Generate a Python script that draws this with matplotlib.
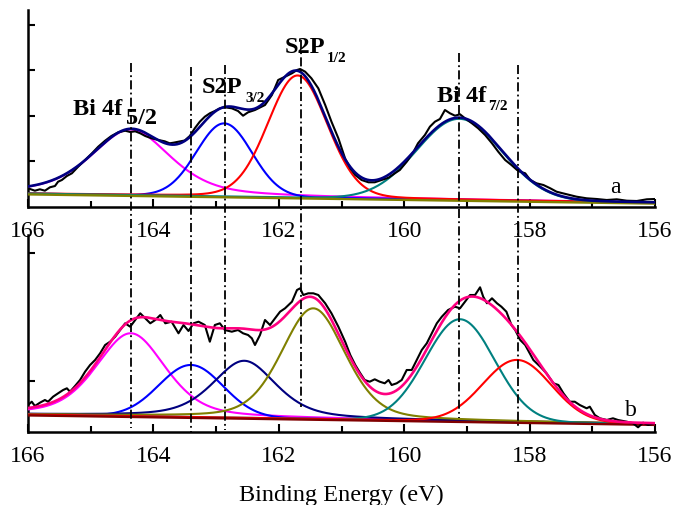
import numpy as np
import matplotlib
matplotlib.use("Agg")
import matplotlib.pyplot as plt
from matplotlib.lines import Line2D
from matplotlib.transforms import blended_transform_factory

plt.rcParams['font.family'] = ['Liberation Serif', 'DejaVu Serif']

# ---------------- measured spectra (binding energy in eV, intensity in a.u.) ----------------
energy_a = [166.00, 165.89, 165.81, 165.73, 165.65, 165.57, 165.52, 165.46, 165.38, 165.30,
            165.20, 165.09, 164.98, 164.88, 164.77, 164.67, 164.56, 164.45, 164.37, 164.29,
            164.21, 164.13, 164.03, 163.92, 163.82, 163.74, 163.68, 163.60, 163.50, 163.42,
            163.34, 163.26, 163.18, 163.10, 163.02, 162.94, 162.86, 162.75, 162.65, 162.57,
            162.49, 162.38, 162.22, 162.11, 162.01, 161.90, 161.79, 161.71, 161.66, 161.58,
            161.48, 161.37, 161.26, 161.16, 161.05, 160.94, 160.86, 160.78, 160.68, 160.57,
            160.47, 160.36, 160.25, 160.15, 160.07, 159.96, 159.85, 159.78, 159.67, 159.59,
            159.51, 159.43, 159.35, 159.27, 159.19, 159.11, 159.03, 158.92, 158.82, 158.71,
            158.60, 158.50, 158.39, 158.29, 158.20, 158.15, 158.07, 157.99, 157.89, 157.78,
            157.67, 157.57, 157.47, 157.36, 157.25, 157.09, 156.93, 156.77, 156.61, 156.45,
            156.29, 156.13, 156.00]
counts_a = [18.7, 16.3, 17.7, 16.3, 19.7, 21.0, 25.3, 27.0, 31.0, 33.7,
            40.3, 47.0, 53.7, 60.3, 66.3, 71.0, 74.7, 76.3, 75.0, 75.7,
            73.7, 71.0, 68.7, 67.0, 65.7, 63.7, 64.3, 65.3, 66.5, 71.0,
            78.7, 85.3, 90.3, 93.7, 96.0, 98.7, 99.7, 98.7, 96.0, 91.3,
            94.7, 97.0, 102.0, 112.0, 127.0, 130.3, 133.7, 137.0, 138.0, 135.3,
            128.7, 118.7, 102.0, 85.3, 68.7, 48.0, 38.7, 32.0, 27.0, 24.7,
            24.7, 27.0, 29.3, 33.7, 37.0, 45.3, 55.3, 63.7, 72.0, 80.3,
            85.3, 88.0, 97.0, 93.7, 91.3, 92.7, 88.7, 83.7, 78.7, 72.0,
            63.7, 55.3, 47.0, 42.0, 37.0, 35.3, 33.7, 27.0, 23.7, 22.0,
            18.7, 15.3, 13.7, 12.0, 10.3, 8.7, 8.0, 7.0, 7.7, 6.3,
            6.0, 7.7, 8.0]

energy_b = [166.00, 165.94, 165.89, 165.81, 165.73, 165.68, 165.60, 165.52, 165.44, 165.38,
            165.33, 165.25, 165.17, 165.09, 165.01, 164.93, 164.85, 164.77, 164.69, 164.61,
            164.53, 164.45, 164.37, 164.29, 164.21, 164.13, 164.05, 163.97, 163.89, 163.81,
            163.71, 163.60, 163.52, 163.44, 163.36, 163.28, 163.18, 163.10, 163.02, 162.94,
            162.86, 162.75, 162.65, 162.57, 162.49, 162.43, 162.38, 162.30, 162.22, 162.14,
            162.06, 161.98, 161.90, 161.79, 161.71, 161.66, 161.61, 161.53, 161.45, 161.37,
            161.26, 161.16, 161.05, 160.94, 160.86, 160.78, 160.70, 160.63, 160.55, 160.47,
            160.39, 160.31, 160.25, 160.20, 160.12, 160.04, 159.96, 159.88, 159.80, 159.72,
            159.64, 159.56, 159.48, 159.40, 159.30, 159.19, 159.11, 159.03, 158.95, 158.87,
            158.79, 158.74, 158.68, 158.60, 158.52, 158.45, 158.37, 158.29, 158.23, 158.15,
            158.07, 157.94, 157.83, 157.73, 157.62, 157.54, 157.46, 157.36, 157.28, 157.20,
            157.09, 157.04, 156.96, 156.88, 156.77, 156.67, 156.59, 156.45, 156.35, 156.27,
            156.19, 156.11, 156.00]
counts_b = [27.0, 30.3, 26.0, 29.3, 32.0, 30.3, 35.3, 38.7, 42.0, 43.7,
            40.3, 46.0, 52.0, 60.3, 67.0, 72.0, 78.7, 87.0, 90.3, 95.3,
            102.0, 108.7, 105.3, 112.0, 118.7, 113.7, 108.7, 112.0, 117.0, 108.7,
            110.3, 98.7, 107.0, 101.0, 108.7, 110.3, 107.0, 90.3, 107.0, 108.7,
            102.0, 100.3, 102.0, 98.7, 97.0, 93.7, 87.0, 97.0, 112.0, 107.0,
            113.7, 120.3, 123.7, 130.3, 142.0, 143.7, 137.0, 138.7, 138.7, 137.0,
            128.7, 118.7, 105.3, 90.0, 77.0, 67.0, 58.7, 52.0, 50.3, 52.7,
            50.3, 48.7, 52.0, 47.0, 48.7, 52.0, 62.0, 62.0, 72.0, 82.0,
            88.7, 98.7, 108.7, 115.3, 122.0, 125.3, 123.7, 130.3, 137.0, 137.0,
            144.7, 135.3, 128.7, 133.7, 128.7, 125.3, 120.3, 107.0, 102.0, 92.0,
            87.0, 72.0, 65.3, 58.7, 48.7, 47.0, 38.7, 30.3, 30.3, 27.0,
            23.7, 25.3, 17.0, 13.7, 12.0, 13.7, 12.0, 10.3, 8.7, 4.7,
            9.3, 7.0, 8.7]

# ---------------- fitted components: centre (eV), height, FWHM (eV), Lorentzian fraction ----
centers_a = [164.36, 162.87, 161.70, 159.12]
heights_a = [65.5, 73.0, 122.0, 81.0]
fwhm_a = [1.50, 1.04, 1.12, 1.60]
eta_a = [0.50, 0.00, 0.10, 0.00]
colors_a = ['#FF00FF', '#0000FF', '#FF0000', '#008080']
background_a = [4.3, 13.5]          # linear background at 156 eV and 166 eV

centers_b = [164.36, 163.40, 162.55, 161.45, 159.11, 158.20]
heights_b = [82.8, 52.0, 57.0, 110.5, 101.8, 62.0]
fwhm_b = [1.30, 1.20, 1.20, 1.20, 1.30, 1.28]
eta_b = [0.40, 0.00, 0.50, 0.30, 0.00, 0.00]
colors_b = ['#FF00FF', '#0000FF', '#000080', '#808000', '#008080', '#FF0000']
background_b = [8.0, 17.5]

# reference peak positions marked across both spectra
ref_positions = [164.36, 163.40, 162.86, 161.64, 159.13, 158.18]

x_ticks = [166, 164, 162, 160, 158, 156]


def pseudo_voigt(e, c, h, fwhm, eta):
    u = (e - c) / (fwhm / 2.0)
    return h * ((1 - eta) * np.exp(-np.log(2) * u ** 2) + eta / (1 + u ** 2))


W, H = 673, 505
fig = plt.figure(figsize=(W / 100, H / 100), dpi=100)


def px_rect(x0, y0, x1, y1):
    return [x0 / W, 1 - y1 / H, (x1 - x0) / W, (y1 - y0) / H]


ax_a = fig.add_axes(px_rect(28, 10, 655, 207))
ax_b = fig.add_axes(px_rect(28, 235, 655, 432))

grid = np.linspace(156, 166, 800)


def draw_panel(ax, energy, counts, centers, heights, fwhms, etas, colors, bg_ends,
               env_color, base_color, yticks):
    bg = np.interp(grid, [156, 166], bg_ends)
    total = bg.copy()
    for c, h, w, et, col in zip(centers, heights, fwhms, etas, colors):
        peak = pseudo_voigt(grid, c, h, w, et)
        total += peak
        ax.plot(grid, bg + peak, color=col, lw=1.5, zorder=3)
    ax.plot(grid, bg - 0.9, color=base_color, lw=1.7, zorder=3.5)
    ax.plot(energy, counts, color='black', lw=1.5, zorder=4)
    ax.plot(grid, total, color=env_color, lw=1.9, zorder=5)

    ax.set_xlim(166, 156)
    ax.set_ylim(0, 197)
    for s in ('top', 'right'):
        ax.spines[s].set_visible(False)
    for s in ('left', 'bottom'):
        ax.spines[s].set_linewidth(1.8)
    ax.set_xticks(x_ticks)
    ax.set_xticks([165, 163, 161, 159, 157], minor=True)
    ax.tick_params(axis='x', which='major', direction='in', length=6, width=1.5,
                   labelsize=17, pad=10)
    ax.tick_params(axis='x', which='minor', direction='in', length=4.5, width=1.5)
    ax.set_yticks(yticks)
    ax.set_yticklabels([])
    ax.tick_params(axis='y', which='major', direction='in', length=5, width=1.5)
    ax.patch.set_alpha(0)


draw_panel(ax_a, energy_a, counts_a, centers_a, heights_a, fwhm_a, eta_a, colors_a,
           background_a, '#000080', '#808000', [45.5, 91, 136.5, 182])
draw_panel(ax_b, energy_b, counts_b, centers_b, heights_b, fwhm_b, eta_b, colors_b,
           background_b, '#FF0080', '#800000', [51, 179])

# peak labels
bold = dict(fontweight='bold', ha='left', va='baseline', clip_on=False, zorder=6)
ax_a.text(165.29, 92, 'Bi 4f', fontsize=17.5, **bold)
ax_a.text(164.44, 83, '5/2', fontsize=17.5, **bold)
ax_a.text(163.23, 113.7, 'S2P', fontsize=17.5, **bold)
ax_a.text(162.54, 105.3, '3/2', fontsize=11, **bold)
ax_a.text(161.90, 153.7, 'S2P', fontsize=17.5, **bold)
ax_a.text(161.23, 145.3, '1/2', fontsize=11, **bold)
ax_a.text(159.47, 105.3, 'Bi 4f', fontsize=17.5, **bold)
ax_a.text(158.66, 97, '7/2', fontsize=11, **bold)
ax_a.text(156.72, 13.7, 'a', fontsize=17, ha='left', va='baseline')
ax_b.text(156.48, 16, 'b', fontsize=17, ha='left', va='baseline')

# dash-dot markers spanning both panels (vertical extent in figure pixels)
spans_px = [(63, 428), (67, 432), (65, 430), (40, 407), (53, 418), (65, 428)]
trans = blended_transform_factory(ax_a.transData, fig.transFigure)
for pos, (y0, y1) in zip(ref_positions, spans_px):
    fig.add_artist(Line2D([pos, pos], [1 - y0 / H, 1 - y1 / H], transform=trans,
                          color='black', lw=1.3, linestyle=(0, (5, 1.8, 1, 1.8)),
                          zorder=10))

fig.text(341.5 / W, (H - 501) / H, 'Binding Energy (eV)', ha='center', va='baseline',
         fontsize=17.5)

fig.savefig('out.png', dpi=100)
